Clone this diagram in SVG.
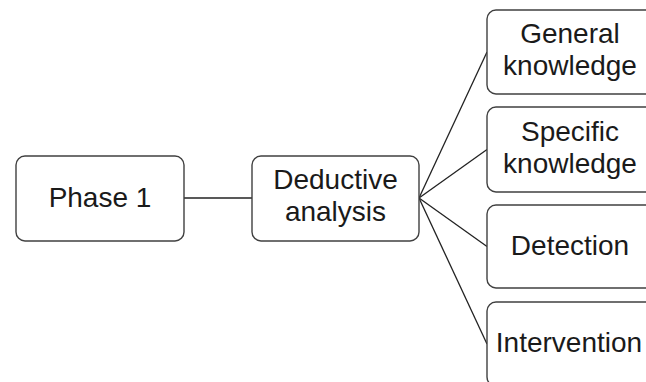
<svg xmlns="http://www.w3.org/2000/svg" width="646" height="382" viewBox="0 0 646 382">
<style>
.box{fill:#fff;stroke:#404040;stroke-width:1.4}
.t{font-family:"Liberation Sans",Arial,sans-serif;font-size:28px;fill:#1a1a1a;text-anchor:middle}
.c{stroke:#222;stroke-width:1.3;fill:none}
</style>
<rect width="646" height="382" fill="#fff"/>
<g id="connectors">
<line class="c" x1="184" y1="198" x2="252" y2="198"/>
<line class="c" x1="419" y1="198" x2="487" y2="52"/>
<line class="c" x1="419" y1="198" x2="487" y2="149.5"/>
<line class="c" x1="419" y1="198" x2="487" y2="246.5"/>
<line class="c" x1="419" y1="198" x2="487" y2="344"/>
</g>
<g id="phase1">
<rect class="box" x="16" y="156" width="168" height="85" rx="9"/>
<text class="t" x="100" y="207">Phase 1</text>
</g>
<g id="deductive">
<rect class="box" x="252" y="156" width="167" height="85" rx="9"/>
<text class="t" x="335.5" y="189">Deductive</text>
<text class="t" x="335.5" y="221">analysis</text>
</g>
<g id="general">
<rect class="box" x="487" y="10" width="170" height="84" rx="9"/>
<text class="t" x="570" y="43">General</text>
<text class="t" x="570" y="75">knowledge</text>
</g>
<g id="specific">
<rect class="box" x="487" y="107" width="170" height="85" rx="9"/>
<text class="t" x="570" y="140.5">Specific</text>
<text class="t" x="570" y="172.5">knowledge</text>
</g>
<g id="detection">
<rect class="box" x="487" y="205" width="170" height="83" rx="9"/>
<text class="t" x="570" y="255">Detection</text>
</g>
<g id="intervention">
<rect class="box" x="487" y="302" width="170" height="84" rx="9"/>
<text class="t" x="569" y="352">Intervention</text>
</g>
</svg>
